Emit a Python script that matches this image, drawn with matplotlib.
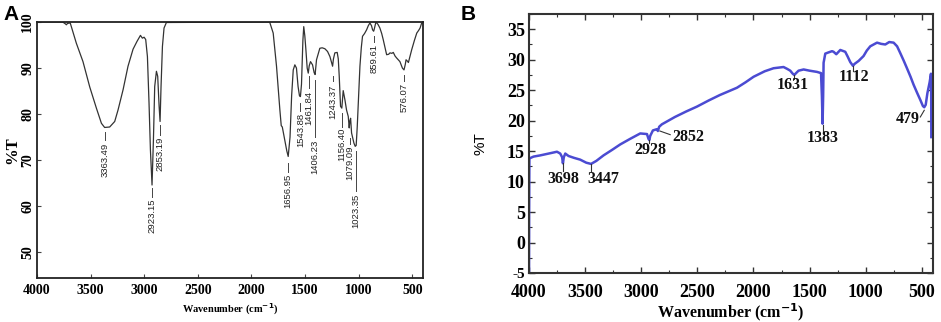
import matplotlib
matplotlib.use("Agg")
import matplotlib.pyplot as plt
from matplotlib.ticker import MultipleLocator, FixedLocator

# ---------------- Panel A data ----------------
a_wavenumber = [4000, 3760, 3735, 3726, 3715, 3690, 3660, 3633, 3571, 3508, 3446, 3399, 3369,
                3322, 3275, 3244, 3197, 3151, 3104, 3067, 3035, 3017, 3001, 2986, 2970, 2955,
                2942, 2927, 2914, 2902, 2886, 2874, 2861, 2852, 2843, 2830, 2815, 2793,
                1830, 1797, 1766, 1735, 1722, 1712, 1689, 1670, 1657, 1640, 1625, 1610, 1595,
                1580, 1565, 1552, 1543, 1533, 1520, 1512, 1502, 1492, 1480, 1470, 1461, 1449,
                1430, 1415, 1406, 1393, 1362, 1340, 1315, 1290, 1268, 1243, 1235, 1222, 1200,
                1190, 1181, 1169, 1157, 1150, 1144, 1135, 1128, 1113, 1097, 1088, 1082, 1075,
                1066, 1044, 1032, 1023, 1013, 1000, 988, 975, 964, 945, 926, 910, 895, 880,
                870, 860, 855, 839, 820, 802, 785, 771, 755, 739, 720, 708, 690, 677, 660,
                646, 630, 615, 600, 592, 577, 565, 558, 545, 536, 520, 505, 480, 458, 440,
                427, 412, 400]
a_transmittance = [100, 100, 99.6, 99.4, 99.7, 99.8, 97.5, 95.4, 91.4, 85.9, 81.3, 78.0, 77.1,
                   77.2, 78.4, 80.9, 85.3, 90.4, 94.1, 95.8, 97.1, 96.5, 96.7, 96.2, 92.5, 82.4,
                   72.2, 64.6, 74.4, 86.0, 89.3, 88.2, 81.7, 78.4, 86.0, 94.7, 98.7, 99.9,
                   100, 97.6, 90.4, 81.0, 77.5, 77.2, 74.4, 72.0, 70.8, 75.0, 84.0, 89.6, 90.7,
                   90.0, 86.0, 84.0, 83.8, 86.5, 96.0, 99.0, 97.0, 94.0, 90.0, 88.9, 90.5, 91.4,
                   90.7, 89.0, 88.6, 91.8, 94.3, 94.4, 94.2, 93.6, 92.5, 90.4, 92.0, 93.3, 93.4,
                   92.0, 88.2, 81.7, 81.3, 83.5, 85.1, 84.0, 83.1, 80.9, 79.5, 77.0, 78.5, 79.1,
                   75.9, 73.7, 73.0, 73.2, 77.3, 84.0, 90.4, 94.5, 96.9, 97.5, 98.3, 99.2, 99.8, 99.2,
                   98.3, 98.0, 98.4, 100, 99.5, 98.7, 97.5, 96.2, 94.5, 92.9, 93.0, 93.3, 93.2, 93.4, 92.6,
                   92.2, 91.8, 91.4, 90.5, 90.0, 89.6, 90.8, 91.8, 91.5, 91.2, 92.6, 94.0, 96.0, 97.6, 98.2,
                   98.7, 99.8, 99.8]

a_peak_labels = ["3363.49", "2923.15", "2853.19", "1656.95", "1543.88", "1461.84", "1406.23",
                 "1243.37", "1156.40", "1079.09", "1023.35", "859.61", "576.07"]
a_peak_wn = [3363.49, 2923.15, 2853.19, 1656.95, 1543.88, 1461.84, 1406.23,
             1243.37, 1156.40, 1079.09, 1023.35, 859.61, 576.07]
# dash top, dash bottom, text top (in %T)
a_dash_top = [76.2, 63.9, 77.7, 69.3, 82.4, 88.2, 87.5, 88.3, 80.2, 74.8, 71.9, 96.9, 88.6]
a_dash_bot = [74.4, 62.1, 75.5, 67.5, 80.6, 85.7, 75.1, 87.1, 77.3, 73.6, 63.2, 95.6, 87.1]
a_text_top = [73.7, 61.6, 75.1, 67.0, 80.2, 85.1, 74.4, 86.4, 77.0, 73.1, 62.8, 95.2, 86.7]

a_xticks = [4000, 3500, 3000, 2500, 2000, 1500, 1000, 500]
a_yticks = [50, 60, 70, 80, 90, 100]

# ---------------- Panel B data ----------------
b_wavenumber = [4000, 3999, 3997, 3960, 3900, 3850, 3800, 3751, 3722, 3705, 3698, 3690, 3677,
                3648, 3600, 3544, 3490, 3447, 3400, 3336, 3260, 3187, 3100, 3009, 2949, 2935,
                2928, 2920, 2896, 2860, 2852, 2840, 2816, 2700, 2600, 2504, 2400, 2300, 2147,
                2070, 1999, 1900, 1821, 1732, 1700, 1672, 1650, 1636, 1615, 1598, 1553, 1500,
                1434, 1398, 1390, 1384, 1379, 1375, 1360, 1331, 1300, 1286, 1262, 1226, 1182,
                1160, 1137, 1113, 1100, 1063, 1019, 990, 959, 899, 862, 825, 790, 751, 720,
                692, 660, 632, 600, 573, 540, 513, 490, 478, 465, 450, 430, 418, 416, 415]
b_transmittance = [-4.8, 5.0, 13.8, 14.1, 14.3, 14.5, 14.7, 14.9, 14.6, 14.0, 13.0, 14.0, 14.6,
                   14.2, 13.9, 13.6, 13.1, 12.9, 13.4, 14.3, 15.2, 16.1, 17.0, 17.9, 17.8, 17.0,
                   16.8, 17.5, 18.4, 18.6, 18.3, 19.0, 19.4, 20.6, 21.5, 22.3, 23.3, 24.2, 25.4,
                   26.3, 27.2, 28.1, 28.6, 28.8, 28.5, 28.2, 27.7, 27.5, 27.9, 28.2, 28.4, 28.2,
                   28.0, 27.8, 24.0, 19.5, 24.0, 29.5, 31.0, 31.2, 31.4, 31.3, 30.9, 31.6, 31.3,
                   30.5, 29.6, 29.0, 29.3, 29.8, 30.6, 31.5, 32.2, 32.8, 32.6, 32.5, 32.9, 32.8, 32.2,
                   31.1, 29.8, 28.6, 27.2, 25.9, 24.5, 23.4, 22.4, 22.2, 22.6, 24.5, 26.3, 27.7, 25.0, 17.3]

b_peak_labels = ["3698", "3447", "2928", "2852", "1631", "1383", "1112", "479"]
b_text_x = [3698, 3336, 2920, 2578, 1648, 1384, 1102, 627]
b_text_y = [10.5, 10.4, 15.2, 17.3, 25.8, 17.1, 27.1, 20.2]
b_lead_x0 = [3698, 3447, 2928, 2834, 1636, 1384, 1113, 513]
b_lead_y0 = [13.0, 12.9, 16.8, 18.3, 27.5, 19.3, 29.0, 20.6]
b_lead_x1 = [3698, 3447, 2928, 2742, 1636, 1384, 1113, 478]
b_lead_y1 = [11.7, 11.8, 16.3, 17.7, 26.9, 18.2, 28.1, 21.7]

b_xticks = [4000, 3500, 3000, 2500, 2000, 1500, 1000, 500]
b_yticks = [-5, 0, 5, 10, 15, 20, 25, 30, 35]

SERIF = "Liberation Serif"
SANS = "Liberation Sans"

fig = plt.figure(figsize=(9.41, 3.22), dpi=100)

# ---------------- Panel A ----------------
axA = fig.add_axes([0.0393, 0.1366, 0.4102, 0.795])
axA.plot(a_wavenumber, a_transmittance, color="#333333", lw=0.9)
axA.set_xlim(4000, 400)
axA.set_ylim(44.4, 100)
axA.xaxis.set_major_locator(FixedLocator(a_xticks))
axA.yaxis.set_major_locator(FixedLocator(a_yticks))
axA.set_xticklabels([str(t) for t in a_xticks], fontfamily=SERIF, fontweight="bold", fontsize=10)
axA.set_yticklabels([str(t) for t in a_yticks], fontfamily=SERIF, fontweight="bold", fontsize=10,
                    rotation=90, va="center")
axA.tick_params(direction="in", length=3, width=0.8, color="#444444")
axA.tick_params(axis="x", pad=4)
axA.tick_params(axis="y", pad=2)
for s in axA.spines.values():
    s.set_linewidth(1.3)
    s.set_color("#222222")
axA.set_xlabel("Wavenumber (cm$^{\\mathbf{-1}}$)", fontfamily=SERIF, fontweight="bold",
               fontsize=7.5, labelpad=4)
axA.set_ylabel("%T", fontfamily=SERIF, fontweight="bold", fontsize=12, labelpad=1)

for lab, wn, d0, d1, tt in zip(a_peak_labels, a_peak_wn, a_dash_top, a_dash_bot, a_text_top):
    axA.plot([wn, wn], [d0, d1], color="#444444", lw=0.7)
    axA.text(wn, tt, lab, rotation=90, ha="center", va="top", fontsize=6.8,
             fontfamily=SANS, color="#222222")

fig.text(0.004, 0.985, "A", fontfamily=SANS, fontweight="bold", fontsize=15, va="top", ha="left")

# ---------------- Panel B ----------------
axB = fig.add_axes([0.5622, 0.1522, 0.4293, 0.8043])
axB.plot(b_wavenumber, b_transmittance, color="#4b4bd2", lw=1.8)
axB.set_xlim(4000, 400)
axB.set_ylim(-5, 37.5)
axB.xaxis.set_major_locator(FixedLocator(b_xticks))
axB.yaxis.set_major_locator(FixedLocator(b_yticks))
axB.xaxis.set_minor_locator(MultipleLocator(250))
axB.yaxis.set_minor_locator(MultipleLocator(2.5))
axB.set_xticklabels([str(t) for t in b_xticks], fontfamily=SERIF, fontweight="bold", fontsize=13)
ylabels = axB.set_yticklabels([str(t) for t in b_yticks], fontfamily=SERIF, fontweight="bold",
                              fontsize=13)
ylabels[0].set_fontsize(11)
axB.tick_params(which="both", direction="in", top=True, right=True, color="#333333")
axB.tick_params(axis="x", which="major", pad=8)
axB.tick_params(axis="y", which="major", pad=3)
axB.tick_params(which="major", length=4, width=1.0)
axB.tick_params(which="minor", length=2.5, width=0.8)
for s in axB.spines.values():
    s.set_linewidth(1.5)
    s.set_color("#333333")
axB.set_xlabel("Wavenumber (cm$^{\\mathbf{-1}}$)", fontfamily=SERIF, fontweight="bold",
               fontsize=11.5, labelpad=0)
axB.set_ylabel("%T", fontfamily=SANS, fontsize=11, labelpad=14)

for lab, tx, ty, x0, y0, x1, y1 in zip(b_peak_labels, b_text_x, b_text_y,
                                       b_lead_x0, b_lead_y0, b_lead_x1, b_lead_y1):
    axB.plot([x0, x1], [y0, y1], color="#333333", lw=0.8)
    axB.text(tx, ty, lab, ha="center", va="center", fontsize=11.5,
             fontfamily=SERIF, fontweight="bold", color="#111111")

fig.text(0.490, 0.985, "B", fontfamily=SANS, fontweight="bold", fontsize=15, va="top", ha="left")

fig.savefig("out.png", dpi=100)
